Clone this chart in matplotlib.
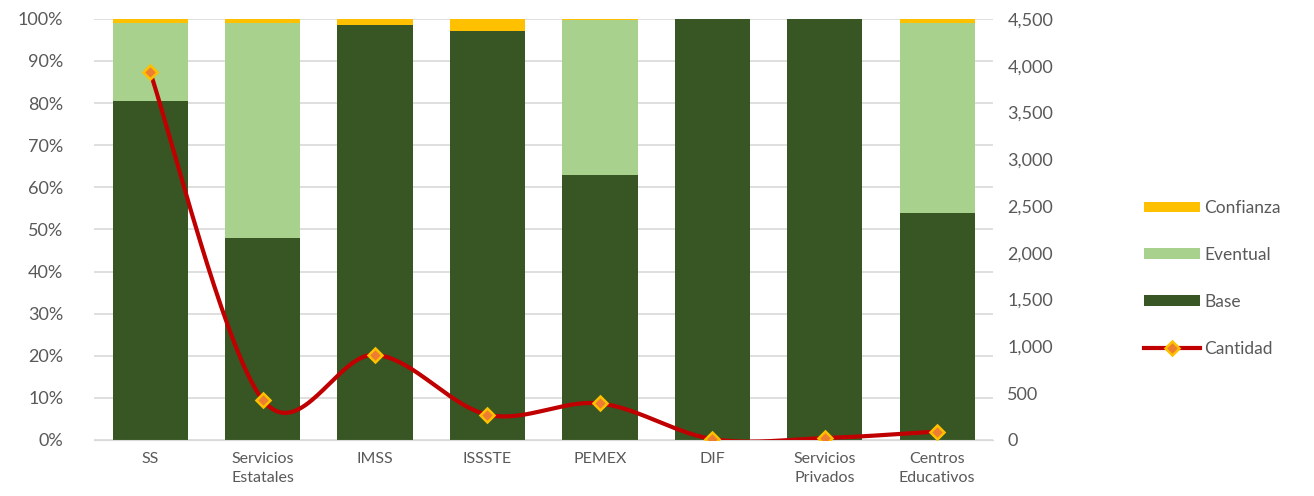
import numpy as np
import matplotlib.pyplot as plt
from matplotlib.ticker import FuncFormatter
from matplotlib.lines import Line2D

plt.rcParams["font.family"] = ["Lato", "DejaVu Sans"]

categories = ["SS", "Servicios\nEstatales", "IMSS", "ISSSTE", "PEMEX", "DIF",
              "Servicios\nPrivados", "Centros\nEducativos"]
base = [80.5, 48.0, 98.5, 97.0, 63.0, 100.0, 100.0, 54.0]
eventual = [18.5, 51.0, 0.0, 0.0, 36.7, 0.0, 0.0, 45.0]
confianza = [1.0, 1.0, 1.5, 3.0, 0.3, 0.0, 0.0, 1.0]
cantidad = [3930, 430, 910, 270, 390, 10, 20, 90]

COL_BASE = "#375623"
COL_EVENT = "#A9D18E"
COL_CONF = "#FFC000"
COL_LINE = "#C00000"
TXT = "#595959"


def smooth(x, y, n=40):
    # Catmull-Rom style smoothing, similar to spreadsheet "smoothed line"
    x = np.asarray(x, float)
    y = np.asarray(y, float)
    px = np.concatenate([[x[0]], x, [x[-1]]])
    py = np.concatenate([[y[0]], y, [y[-1]]])
    xs, ys = [], []
    for i in range(1, len(px) - 2):
        p0, p1, p2, p3 = (np.array([px[j], py[j]]) for j in (i - 1, i, i + 1, i + 2))
        c1 = p1 + (p2 - p0) / 6
        c2 = p2 - (p3 - p1) / 6
        t = np.linspace(0, 1, n)[:, None]
        pts = ((1 - t) ** 3) * p1 + 3 * ((1 - t) ** 2) * t * c1 + 3 * (1 - t) * t ** 2 * c2 + t ** 3 * p2
        xs.extend(pts[:, 0])
        ys.extend(pts[:, 1])
    return xs, ys


fig = plt.figure(figsize=(13.14, 4.96), dpi=100)
ax = fig.add_axes([0.0715, 0.113, 0.6845, 0.849])
x = np.arange(len(categories))
w = 0.67

b1 = ax.bar(x, base, w, color=COL_BASE, label="Base", zorder=2)
b2 = ax.bar(x, eventual, w, bottom=base, color=COL_EVENT, label="Eventual", zorder=2)
bot2 = [a + b for a, b in zip(base, eventual)]
b3 = ax.bar(x, confianza, w, bottom=bot2, color=COL_CONF, label="Confianza", zorder=2)

ax.set_ylim(0, 100)
ax.set_xlim(-0.5, len(categories) - 0.5)
ax.set_yticks(range(0, 101, 10))
ax.yaxis.set_major_formatter(FuncFormatter(lambda v, p: f"{int(v)}%"))
ax.grid(axis="y", color="#D9D9D9", linewidth=1.2, zorder=0)
ax.set_axisbelow(True)
ax.set_xticks(x)
ax.set_xticklabels(categories, fontsize=11.5, color=TXT, linespacing=1.45)
ax.tick_params(axis="y", labelsize=13, colors=TXT, length=0, pad=22)
ax.tick_params(axis="x", length=0, pad=9)
for s in ["top", "right", "left"]:
    ax.spines[s].set_visible(False)
ax.spines["bottom"].set_color("#D9D9D9")

ax2 = ax.twinx()
ax2.set_ylim(0, 4500)
ax2.set_yticks(range(0, 4501, 500))
ax2.yaxis.set_major_formatter(FuncFormatter(lambda v, p: f"{int(v):,}"))
ax2.tick_params(axis="y", labelsize=13, colors=TXT, length=0, pad=10)
for s in ax2.spines.values():
    s.set_visible(False)
sx, sy = smooth(x, cantidad)
ax2.plot(sx, sy, color=COL_LINE, linewidth=3.0, zorder=3)
ax2.plot(x, cantidad, linestyle="none", marker="D", markersize=7.5,
         markerfacecolor="#ED7D31", markeredgecolor=COL_CONF, markeredgewidth=1.8, zorder=4)

h_line = Line2D([], [], color=COL_LINE, linewidth=3.0, marker="D", markersize=7.5,
                markerfacecolor="#ED7D31", markeredgecolor=COL_CONF, markeredgewidth=1.8)
leg = fig.legend([b3, b2, b1, h_line], ["Confianza", "Eventual", "Base", "Cantidad"],
                 loc="center left", bbox_to_anchor=(0.859, 0.439), frameon=False,
                 fontsize=12.5, handlelength=3.2, handleheight=0.55, handletextpad=0.25,
                 labelspacing=1.78, labelcolor=TXT)

fig.savefig("out.png", dpi=100)
